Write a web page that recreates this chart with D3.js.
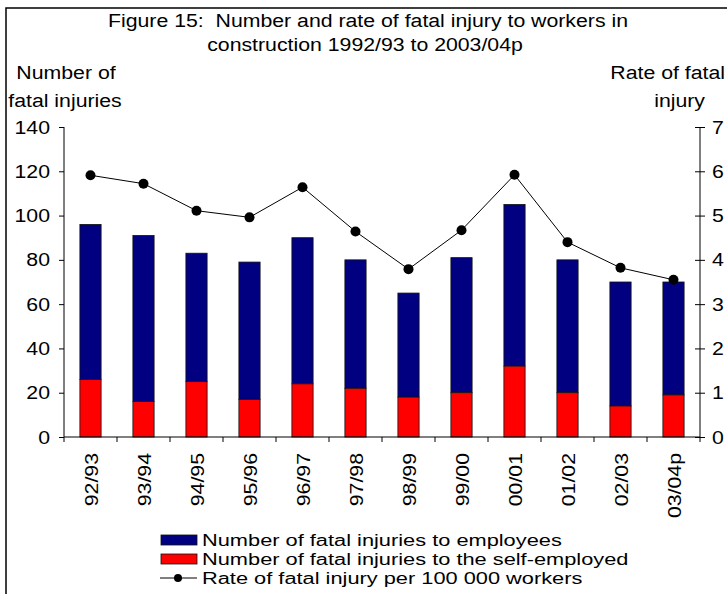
<!DOCTYPE html>
<html><head><meta charset="utf-8">
<script src="https://cdn.jsdelivr.net/npm/d3@7"></script>
<style>body{margin:0;background:#fff}svg{display:block}text{font-family:"Liberation Sans",Arial,sans-serif;fill:#000}</style>
</head><body>
<script>
const categories = ["92/93","93/94","94/95","95/96","96/97","97/98","98/99","99/00","00/01","01/02","02/03","03/04p"];
const totalFatal = [96,91,83,79,90,80,65,81,105,80,70,70];
const selfEmployed = [26,16,25,17,24,22,18,20,32,20,14,19];
const rate = [5.91,5.72,5.11,4.96,5.64,4.64,3.79,4.67,5.92,4.40,3.82,3.55];
const leftTicks = [0,20,40,60,80,100,120,140];
const rightTicks = [0,1,2,3,4,5,6,7];

const W = 727, H = 594;
const FS = 19, SX = 1.12;
const svg = d3.select("body").append("svg").attr("width", W).attr("height", H);
svg.append("rect").attr("x",6).attr("y",8).attr("width",W+20).attr("height",H+20)
  .attr("fill","#fff").attr("stroke","#000").attr("stroke-width",1.5);

function stext(g, x0, y0, txt, anchor, sx, fs) {
  return g.append("text").attr("transform",`translate(${x0},${y0}) scale(${sx||SX},1)`)
    .attr("text-anchor", anchor||"start").attr("xml:space","preserve")
    .style("font-size",(fs||FS)+"px").text(txt);
}

const L = 64, R = 700, T = 127, B = 437;
const x = d3.scaleBand().domain(categories).range([L,R]).paddingInner(0.6).paddingOuter(0.3);
const xb = d3.scaleLinear().domain([0,categories.length]).range([L,R]);
const y = d3.scaleLinear().domain([0,140]).range([B,T]);
const y2 = d3.scaleLinear().domain([0,7]).range([B,T]);

// bars
const emp = categories.map((c,i)=>({c, lo:selfEmployed[i], hi:totalFatal[i]}));
const se = categories.map((c,i)=>({c, lo:0, hi:selfEmployed[i]}));
const bw = x.bandwidth();
svg.append("g").selectAll("rect").data(emp).join("rect")
  .attr("x", d=>x(d.c)).attr("width", bw).attr("y", d=>y(d.hi)).attr("height", d=>y(d.lo)-y(d.hi))
  .attr("fill","#000080").attr("stroke","#111").attr("stroke-width",0.8);
svg.append("g").selectAll("rect").data(se).join("rect")
  .attr("x", d=>x(d.c)).attr("width", bw).attr("y", d=>y(d.hi)).attr("height", d=>y(d.lo)-y(d.hi))
  .attr("fill","#ff0000").attr("stroke","#111").attr("stroke-width",0.8);

// axes
const gl = svg.append("g").attr("transform",`translate(${L},0)`)
  .call(d3.axisLeft(y).tickValues(leftTicks).tickSize(5).tickPadding(7.5));
const gr = svg.append("g").attr("transform",`translate(${R},0)`)
  .call(d3.axisRight(y2).tickValues(rightTicks).tickFormat(d3.format("d")).tickSize(5).tickPadding(5.7));
gr.selectAll(".tick line").attr("x1",-5);
[gl,gr].forEach(g=>{
  g.selectAll("text").style("font-size",FS+"px").attr("font-family",null).attr("transform",`scale(${SX},1)`);
  g.select(".domain").attr("stroke","#000").attr("d",`M0,${B}V${T}`);
  g.selectAll(".tick line").attr("stroke","#000");
});

// x axis
svg.append("line").attr("x1",L).attr("x2",R).attr("y1",B).attr("y2",B).attr("stroke","#000");
svg.append("g").selectAll("line").data(d3.range(categories.length+1)).join("line")
  .attr("x1",d=>xb(d)).attr("x2",d=>xb(d)).attr("y1",B).attr("y2",B+5).attr("stroke","#000");
svg.append("g").selectAll("text").data(categories).join("text")
  .attr("transform", d=>`translate(${x(d)+bw/2+7},453) rotate(-90) scale(${SX},1)`)
  .attr("text-anchor","end").style("font-size",FS+"px").text(d=>d);

// line
const line = d3.line().x((d,i)=>x(categories[i])+bw/2).y(d=>y2(d));
svg.append("path").attr("d", line(rate)).attr("fill","none").attr("stroke","#000").attr("stroke-width",1);
svg.append("g").selectAll("circle").data(rate).join("circle")
  .attr("cx",(d,i)=>x(categories[i])+bw/2).attr("cy",d=>y2(d)).attr("r",5).attr("fill","#000");

// titles
const t = svg.append("g");
stext(t, 368, 27, "Figure 15:  Number and rate of fatal injury to workers in", "middle");
stext(t, 365, 51, "construction 1992/93 to 2003/04p", "middle");
stext(t, 66, 79, "Number of", "middle");
stext(t, 65, 107, "fatal injuries", "middle");
stext(t, 725, 79, "Rate of fatal", "end");
stext(t, 705, 107, "injury", "end");

// legend
const lg = svg.append("g");
const rows = [
  {type:"rect", fill:"#000080", label:"Number of fatal injuries to employees"},
  {type:"rect", fill:"#ff0000", label:"Number of fatal injuries to the self-employed"},
  {type:"line", label:"Rate of fatal injury per 100 000 workers"}
];
rows.forEach((r,i)=>{
  const cy = 540 + i*19;
  if (r.type==="rect") {
    lg.append("rect").attr("x",161).attr("y",cy-5).attr("width",36).attr("height",10)
      .attr("fill",r.fill).attr("stroke","#111").attr("stroke-width",0.8);
  } else {
    lg.append("line").attr("x1",160).attr("x2",197).attr("y1",cy).attr("y2",cy).attr("stroke","#000");
    lg.append("circle").attr("cx",178).attr("cy",cy).attr("r",4).attr("fill","#000");
  }
  stext(lg, 202, cy+6, r.label, "start", 1.33, 16.4);
});
</script>
</body></html>
